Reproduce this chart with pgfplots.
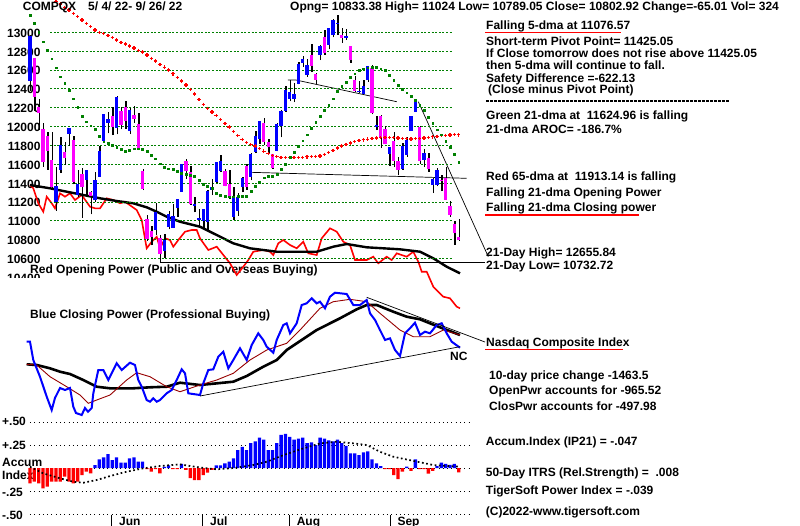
\documentclass[border=0pt]{standalone}
\usepackage{fontspec}
\setmainfont{Liberation Sans}
\usepackage{pgfplots}
\usepackage{pgfplotstable}
\pgfplotsset{compat=1.18}

\definecolor{ggreen}{RGB}{0,128,0}
\definecolor{mag}{RGB}{255,0,255}
\definecolor{dred}{RGB}{150,0,0}
\definecolor{pblue}{RGB}{0,0,255}
\definecolor{pred}{RGB}{255,0,0}

\newcommand{\fs}{\fontsize{12bp}{14bp}\selectfont\bfseries}

% Daily OHLC, index 0 = 5/4/22 ... 99 = 9/26/22
\pgfplotstableread{
i o h l c
0 12484 12975 12376 12965
1 12729 12729 12168 12318
2 12210 12294 11962 12145
3 11979 12043 11574 11623
4 11905 11945 11544 11738
5 11643 11939 11353 11364
6 11200 11574 11108 11371
7 11537 11890 11507 11805
8 11735 11834 11597 11663
9 11927 11984 11795 11985
10 11858 11902 11387 11418
11 11276 11542 11250 11389
12 11496 11557 11035 11355
13 11431 11542 11256 11535
14 11307 11319 11069 11264
15 11226 11515 11199 11435
16 11470 11796 11466 11741
17 11850 12131 11846 12131
18 12037 12153 11929 12081
19 12116 12203 11910 11994
20 11990 12320 11917 12317
21 12167 12211 11970 12013
22 12209 12272 11976 12061
23 11950 12200 11921 12175
24 12126 12217 12039 12086
25 12027 12146 11752 11754
26 11529 11555 11328 11340
27 11018 11060 10789 10809
28 10892 10947 10742 10828
29 10908 11190 10855 11099
30 10815 10850 10565 10646
31 10685 10859 10608 10798
32 10941 11103 10911 11069
33 10926 11183 10924 11053
34 11134 11236 11041 11232
35 11312 11608 11312 11608
36 11636 11658 11449 11525
37 11514 11585 11173 11182
38 11168 11255 11091 11178
39 11009 11128 10934 11029
40 10995 11129 10924 11128
41 10984 11323 10906 11322
42 11324 11448 11273 11362
43 11414 11622 11405 11621
44 11534 11698 11517 11635
45 11534 11554 11367 11373
46 11388 11535 11232 11265
47 11041 11365 11013 11248
48 11101 11298 11056 11251
49 11361 11464 11303 11452
50 11584 11602 11331 11360
51 11468 11716 11429 11713
52 11733 11955 11718 11898
53 11868 12059 11818 12060
54 12037 12091 11809 11834
55 11837 11874 11710 11783
56 11710 11710 11555 11563
57 11739 12041 11738 12032
58 12008 12176 11885 12163
59 12162 12426 12159 12391
60 12297 12491 12269 12369
61 12289 12466 12260 12349
62 12450 12686 12449 12668
63 12679 12751 12632 12721
64 12548 12715 12530 12658
65 12757 12874 12578 12644
66 12555 12568 12452 12494
67 12757 12867 12704 12855
68 12953 13026 12761 12780
69 12865 13048 12820 13047
70 12967 13144 12947 13128
71 13084 13181 12973 13103
72 12967 13045 12891 12938
73 12936 13036 12922 12965
74 12851 12856 12678 12705
75 12495 12533 12364 12382
76 12367 12481 12359 12381
77 12347 12496 12347 12432
78 12496 12639 12477 12639
79 12618 12656 12131 12142
80 12004 12112 11962 12018
81 12118 12119 11777 11883
82 11978 12004 11813 11816
83 11711 11786 11586 11785
84 11851 11938 11570 11631
85 11636 11682 11483 11545
86 11553 11823 11541 11792
87 11704 11895 11680 11862
88 11959 12113 11955 12112
89 12160 12271 12154 12266
90 11991 12005 11608 11634
91 11650 11760 11571 11720
92 11664 11716 11524 11552
93 11381 11451 11296 11448
94 11381 11563 11367 11535
95 11433 11488 11317 11425
96 11460 11571 11220 11220
97 11156 11209 11042 11067
98 10963 10997 10747 10868
99 10833 11024 10789 10803
}\ohlc

\pgfplotsset{base/.style={at={(0,0)}, anchor=north west, width=800bp, height=526bp,
  scale only axis, hide axis, xmin=-6.928, xmax=177.83}}

\begin{document}
\begin{tikzpicture}
\path[use as bounding box] (0,0) rectangle (800bp,-526bp);

% ---------- background labels ----------
\begin{scope}[x=1bp,y=-1bp]
  \begin{scope}
    \clip (0,264) rectangle (60,277.7);
    \node[anchor=base east, inner sep=0pt, font=\fs] at (40.7,282.6) {10400};
  \end{scope}
  \foreach \p/\yy in {13000/32.3,12800/51.2,12600/70.0,12400/88.9,12200/107.8,12000/126.6,11800/145.5,11600/164.4,11400/183.2,11200/202.1,11000/221.0,10800/239.8,10600/258.7}
    {\node[anchor=base east, inner sep=0pt, font=\fs] at (40.7,\yy+4.8) {\p};}
  \node[anchor=base west, inner sep=0pt, font=\fs] at (30,273) {Red Opening Power (Public and Overseas Buying)};
  \node[anchor=base west, inner sep=0pt, font=\fs] at (30,318.3) {Blue Closing Power (Professional Buying)};
  \node[anchor=base west, inner sep=0pt, font=\fs] at (2,425.7) {+.50};
  \node[anchor=base west, inner sep=0pt, font=\fs] at (2,449) {+.25};
  \node[anchor=base west, inner sep=0pt, font=\fs] at (2,466.7) {Accum};
  \node[anchor=base west, inner sep=0pt, font=\fs] at (2,479) {Index};
  \node[anchor=base west, inner sep=0pt, font=\fs] at (2,496) {-.25};
  \node[anchor=base west, inner sep=0pt, font=\fs] at (2,519) {-.50};
\end{scope}

% ---------- power lines (arbitrary units, drawn on a reversed pixel-like scale) ----------
\begin{axis}[base, ymin=0, ymax=526, y dir=reverse]
% Red opening power
\addplot[pred, line width=1.6bp] coordinates {(0,185)(0.76,188.3)(1.92,203.3)(3.07,211.7)(3.86,196.7)(5.01,203.3)(5.77,208.3)(6.93,193.3)(8.08,196.7)(9.24,193.3)(10.39,200)(11.94,195)(13.86,206.7)(15.01,208.3)(16.17,208.3)(17.71,198.3)(19.24,200)(20.79,203.3)(21.94,201.7)(24.64,210)(25.8,220)(26.95,248.3)(28.11,241.7)(29.26,236.7)(30.02,248.3)(31.18,238.3)(32.33,240)(33.1,246.7)(34.25,240)(35.8,231.7)(37.34,230)(38.5,230)(39.26,238.3)(41.18,250)(43.12,246.7)(46.19,263.3)(47.74,275)(49.26,266.7)(50.42,260)(51.57,251.7)(53.88,250)(55.43,251.7)(56.19,255)(57.34,243.3)(58.5,240)(60.05,245)(61.59,248.3)(63.12,241.7)(64.27,253.3)(66.21,255)(67.37,238.3)(69.28,228.3)(70.83,231.7)(72.36,241.7)(73.9,245)(75.06,260)(77.76,260)(79.28,256.7)(80.44,263.3)(82.38,256.7)(83.53,260)(84.69,253.3)(87,256.7)(88.52,251.7)(89.68,261.7)(90.46,271.7)(91.62,271.7)(93.14,286.7)(95.45,296.7)(97,298.3)(98.55,306.7)(99.3,308.3)};
% Black average of opening power
\addplot[black, line width=2.4bp] coordinates {(0,185)(4.62,188.3)(8.48,191.7)(12.31,195)(16.17,198.3)(20.02,201)(23.86,203.3)(26.95,207.3)(29.26,211.7)(31.57,216.7)(34.64,221.7)(39.26,226.7)(43.12,235)(46.95,243.3)(50.81,248.3)(56.97,251.7)(66.21,251.7)(70.05,246.7)(73.14,244)(77.76,247.3)(85.45,249.3)(90.07,251.7)(93.14,258.3)(96.23,266.7)(99.31,273.3)};
% thin trend lines in price area
\addplot[black, line width=0.7bp] coordinates {(59.58,80)(61.43,80)(84.69,101.7)};
\addplot[black, line width=0.7bp] coordinates {(50.81,172.3)(100.85,178.3)};
\addplot[black, line width=0.7bp] coordinates {(89.68,101.7)(105.84,256.7)};
\addplot[black, line width=0.9bp] coordinates {(30.02,262)(105.08,262)};
% Closing power averages
\addplot[black, line width=2.6bp] coordinates {(-0.76,364.3)(1.55,365)(4.62,368.3)(6.93,371.7)(9.24,374)(12.31,380)(15.4,386.7)(18.48,388.3)(23.86,388.3)(27.71,387.3)(31.57,386.7)(34.64,382.7)(39.26,385)(46.95,381.7)(50.05,376)(53.88,366.7)(56.97,360)(59.28,350)(66.21,330)(71.59,318.3)(75.45,309.3)(77.76,305)(80.07,305)(83.9,311.7)(87,316.7)(90.07,319.3)(94.69,327.3)(99.31,335)};
\addplot[dred, line width=0.9bp] coordinates {(-0.76,364.3)(1.55,365)(4.62,376.7)(8.48,386.7)(11.55,395)(13.46,403.3)(15.4,400)(18.48,395)(22.33,380)(24.64,372.7)(27.71,376.7)(31.57,386.7)(34.64,391.7)(39.26,385)(43.12,380)(46.95,373.3)(50.81,360)(54.67,350)(59.28,343.3)(62.36,330)(66.97,308.3)(70.05,301.7)(73.9,299.3)(77.76,301.7)(80.83,313.3)(85.45,330)(88.52,336.7)(92.38,336.7)(95.45,330)(99.31,335)};
% Blue closing power
\addplot[pblue, line width=2bp] coordinates {(-0.76,341.7)(0,341.7)(0.76,360)(2.31,376.7)(3.86,396.7)(5.01,410)(5.77,398)(6.93,388)(8.08,390)(9.24,388)(10,406.7)(10.62,413)(11.94,415)(12.7,408)(13.39,411.7)(14.25,408)(14.62,393.3)(15.77,370)(16.93,370)(18.08,380)(20.02,363.3)(21.18,370)(23.09,362.7)(24.25,365)(25.01,380)(25.8,386.7)(26.95,400)(27.71,401.7)(28.48,398.3)(29.26,401.7)(30.02,400)(31.57,393.3)(32.72,390)(33.88,380)(35.03,369.3)(35.8,373.3)(36.56,393.3)(39.26,395)(40.02,383.3)(41.18,370)(42.33,369.3)(43.49,356.7)(44.64,351.7)(45.8,368.3)(46.95,360)(48.5,348.3)(50.05,360)(51.2,345)(52.72,333.3)(53.88,340)(54.67,346.7)(56.19,352.7)(56.97,340)(58.5,325)(59.28,323.3)(60.05,333.3)(61.59,323.3)(62.75,305)(63.9,303.3)(65.06,298.3)(66.21,303.3)(66.97,301.7)(68.13,308.3)(69.28,296.7)(70.44,292.7)(73.14,294)(74.67,305)(76.21,305)(77.76,300)(78.52,313.3)(79.68,320)(80.83,330)(81.99,340)(83.14,338.3)(84.3,350)(85.45,356)(86.61,333.3)(87.76,328.3)(88.91,322.7)(90.07,335)(91.22,331.7)(92.38,333.3)(93.93,325)(95.08,323.3)(96.23,333.3)(97.39,341.7)(99.31,347.7)};
% trend lines on closing power
\addplot[black, line width=0.7bp] coordinates {(77.76,297.3)(105.08,342)};
\addplot[black, line width=0.7bp] coordinates {(39.26,396)(99.31,346.7)};
\end{axis}

% ---------- price panel ----------
\begin{axis}[base, ymin=7766.3, ymax=13342.4]
\pgfplotsinvokeforeach{10600,10800,11000,11200,11400,11600,11800,12000,12200,12400,12600,12800,13000}{
  \addplot[ggreen, line width=1bp, dash pattern=on 2bp off 1.6bp, forget plot] coordinates {(4.62,#1)(97.7,#1)};
}
% wicks
\addplot[draw=none, mark=none, forget plot,
  error bars/.cd, y dir=plus, y explicit, error mark=none,
  error bar style={draw=black, line width=1.4bp}]
  table[x expr=\thisrow{i}+0.15, y=l, y error expr={\thisrow{h}-\thisrow{l}}] {\ohlc};
% up bodies
\addplot[draw=none, mark=none, forget plot,
  restrict expr to domain={\thisrow{c}-\thisrow{o}}{0:1000000},
  error bars/.cd, y dir=both, y explicit, error mark=none,
  error bar style={draw=pblue, line width=3.3bp}]
  table[x=i, y expr={(\thisrow{o}+\thisrow{c})/2}, y error expr={max(abs(\thisrow{c}-\thisrow{o})/2,6)}] {\ohlc};
% down bodies
\addplot[draw=none, mark=none, forget plot,
  restrict expr to domain={\thisrow{c}-\thisrow{o}}{-1000000:-0.001},
  error bars/.cd, y dir=both, y explicit, error mark=none,
  error bar style={draw=mag, line width=3.3bp}]
  table[x=i, y expr={(\thisrow{o}+\thisrow{c})/2}, y error expr={max(abs(\thisrow{c}-\thisrow{o})/2,6)}] {\ohlc};
% Red 65-dma
\addplot[pred, only marks, mark=+, mark size=1.7bp, mark options={line width=1.3bp}] coordinates {
(5,13360)(6,13330)(7,13300)(8,13265)(9,13235)(10,13200)(11,13170)(12,13130)(13,13095)(14,13060)
(15,13025)(16,13000)(17,12985)(18,12965)(19,12943)(20,12918)(21,12893)(22,12875)(23,12855)(24,12835)
(25,12810)(26,12790)(27,12760)(28,12725)(29,12695)(30,12660)(31,12630)(32,12600)(33,12560)(34,12520)
(35,12485)(36,12440)(37,12395)(38,12345)(39,12290)(40,12237)(41,12195)(42,12155)(43,12115)(44,12075)
(45,12035)(46,11995)(47,11950)(48,11905)(49,11865)(50,11830)(51,11810)(52,11796)(53,11770)(54,11740)
(55,11715)(56,11695)(57,11681)(58,11675)(59,11673)(60,11672)(61,11672)(62,11673)(63,11675)(64,11680)
(65,11683)(66,11686)(67,11690)(68,11705)(69,11725)(70,11750)(71,11775)(72,11795)(73,11810)(74,11825)
(75,11840)(76,11852)(77,11860)(78,11867)(79,11873)(80,11878)(81,11882)(82,11884)(83,11884)(84,11882)
(85,11878)(86,11874)(87,11871)(88,11870)(89,11872)(90,11876)(91,11880)(92,11886)(93,11892)(94,11898)
(95,11904)(96,11908)(97,11912)(98,11914)(99,11913)};
% Green 21-dma
\addplot[ggreen, only marks, mark=square*, mark size=0.9bp] coordinates {
(0,13178)(1,13100)(2,13000)(3,12900)(4,12813)(5,12720)(6,12625)(7,12530)(8,12460)(9,12390)
(10,12297)(11,12203)(12,12112)(13,12052)(14,12010)(15,11970)(16,11900)(17,11840)(18,11822)(19,11807)
(20,11780)(21,11758)(22,11737)(23,11747)(24,11765)(25,11765)(26,11760)(27,11737)(28,11695)(29,11660)
(30,11608)(31,11566)(32,11555)(33,11548)(34,11527)(35,11510)(36,11497)(37,11486)(38,11474)(39,11432)
(40,11387)(41,11365)(42,11345)(43,11293)(44,11269)(45,11260)(46,11258)(47,11258)(48,11260)(49,11262)
(50,11265)(51,11317)(52,11370)(53,11408)(54,11458)(55,11474)(56,11474)(57,11495)(58,11545)(59,11600)
(60,11678)(61,11730)(62,11789)(63,11850)(64,11915)(65,11980)(66,12045)(67,12110)(68,12170)(69,12227)
(70,12297)(71,12377)(72,12430)(73,12471)(74,12524)(75,12562)(76,12594)(77,12615)(78,12625)(79,12632)
(80,12633)(81,12615)(82,12594)(83,12541)(84,12492)(85,12440)(86,12395)(87,12360)(88,12324)(89,12282)
(90,12230)(91,12177)(92,12097)(93,12035)(94,11968)(95,11915)(96,11846)(97,11783)(98,11705)(99,11625)};
\end{axis}

% ---------- accumulation index ----------
\begin{axis}[base, ymin=-0.630, ymax=5.087]
\pgfplotsinvokeforeach{0.5,0.25,0,-0.25,-0.5}{
  \addplot[black, line width=1bp, dash pattern=on 1bp off 3.3bp, forget plot] coordinates {(0,#1)(101.6,#1)};
}
\addplot[ybar, bar width=3.3bp, bar shift=0pt, fill=pred, draw=none] coordinates {
(0,-0.166)(1,-0.149)(2,-0.166)(3,-0.221)(4,-0.203)(5,-0.149)(6,-0.149)(7,-0.149)(8,-0.094)(9,-0.149)
(10,-0.166)(11,-0.149)(12,-0.076)(13,-0.04)(14,-0.058)(27,-0.012)(28,-0.04)(29,-0.012)(30,-0.058)
(33,-0.012)(34,-0.012)(36,-0.02)(37,-0.11)(38,-0.13)(39,-0.13)(40,-0.076)(41,-0.05)(42,-0.02)
(82,-0.012)(83,-0.012)(84,-0.076)(85,-0.12)(86,-0.04)(88,-0.03)(90,-0.012)(91,-0.012)(92,-0.06)(93,-0.03)(99,-0.047)};
\addplot[ybar, bar width=3.3bp, bar shift=0pt, fill=pblue, draw=none] coordinates {
(15,0.033)(16,0.094)(17,0.116)(18,0.152)(19,0.087)(20,0.116)(21,0.058)(22,0.058)(23,0.105)(24,0.116)
(25,0.069)(26,0.069)(31,0.012)(32,0.03)(35,0.044)(43,0.03)(44,0.03)(45,0.05)(46,0.069)(47,0.105)
(48,0.196)(49,0.23)(50,0.196)(51,0.27)(52,0.29)(53,0.33)(54,0.31)(55,0.196)(56,0.196)(57,0.27)
(58,0.36)(59,0.37)(60,0.34)(61,0.31)(62,0.32)(63,0.33)(64,0.27)(65,0.28)(66,0.25)(67,0.33)
(68,0.32)(69,0.30)(70,0.29)(71,0.31)(72,0.27)(73,0.24)(74,0.16)(75,0.16)(76,0.14)(77,0.17)
(78,0.18)(79,0.094)(80,0.05)(81,0.02)(87,0.015)(89,0.094)(94,0.02)(95,0.058)(96,0.045)(97,0.035)(98,0.045)};
\addplot[black, line width=1.7bp, dash pattern=on 1.7bp off 2.6bp] coordinates {
(0,0.014)(3.07,-0.058)(6.93,-0.112)(10,-0.149)(12.3,-0.16)(15.4,-0.13)(18.5,-0.087)(22.3,-0.04)(26.2,-0.003)
(30,0.022)(34.6,0.04)(39.3,0.005)(43.1,-0.014)(47,0)(51.6,0.033)(54.7,0.069)(58.5,0.14)(62.4,0.203)
(67,0.268)(70.8,0.286)(74.7,0.268)(77.8,0.25)(80.8,0.177)(83.9,0.123)(89.3,0.07)(93.1,0.033)(99.3,0.014)};
\end{axis}

% ---------- foreground text ----------
\begin{scope}[x=1bp,y=-1bp]
  \tikzset{t/.style={anchor=base west, inner sep=0pt, font=\fs}}
  \node[t] at (22.7,10.7) {COMPQX\hspace{12bp}5/ 4/ 22- 9/ 26/ 22};
  \node[t] at (290,10.7) {Opng= 10833.38 High= 11024 Low= 10789.05 Close= 10802.92 Change=-65.01 Vol= 324};
  \node[t] at (486,29) {Falling 5-dma at 11076.57};
  \draw[pred, line width=1.3bp] (485,32.5) -- (621,32.5);
  \node[t] at (486,45) {Short-term Pivot Point= 11425.05};
  \node[t] at (486,57) {If Close tomorrow does not rise above 11425.05};
  \node[t] at (486,69) {then 5-dma will continue to fall.};
  \node[t] at (486,82) {Safety Difference =-622.13};
  \node[t] at (488,93.5) {(Close minus Pivot Point)};
  \draw[black, line width=1.2bp, dash pattern=on 3bp off 1bp] (486,101) -- (730,101);
  \node[t] at (486,119) {Green 21-dma at\ \ 11624.96 is falling};
  \node[t] at (486,133.3) {21-dma AROC= -186.7\%};
  \node[t] at (486,180) {Red 65-dma at\ \ 11913.14 is falling};
  \node[t] at (486,196) {Falling 21-dma Opening Power};
  \node[t] at (486,211) {Falling 21-dma Closing power};
  \draw[pred, line width=1.3bp] (485,215) -- (639,215);
  \node[t] at (486,256.7) {21-Day High= 12655.84};
  \node[t] at (486,269.3) {21-Day Low= 10732.72};
  \node[t] at (486,346) {Nasdaq Composite Index};
  \draw[pred, line width=1.3bp] (485,349.5) -- (623,349.5);
  \node[t] at (450,360.7) {NC};
  \node[t] at (489,379.3) {10-day price change -1463.5};
  \node[t] at (489,394) {OpenPwr accounts for -965.52};
  \node[t] at (489,410) {ClosPwr accounts for -497.98};
  \node[t] at (485.7,445.7) {Accum.Index (IP21) = -.047};
  \node[t] at (485.7,476.7) {50-Day ITRS (Rel.Strength) = \ .008};
  \node[t] at (485.7,494.3) {TigerSoft Power Index = -.039};
  \node[t] at (485.7,515.5) {(C)2022-www.tigersoft.com};
  \foreach \xx/\lab in {111.7/Jun,202.7/Jul,289.3/Aug,390/Sep}{
    \draw[black, line width=1bp] (\xx,515) -- (\xx,526);
    \node[t] at (\xx+7.3,525) {\lab};
  }
\end{scope}
\end{tikzpicture}
\end{document}
